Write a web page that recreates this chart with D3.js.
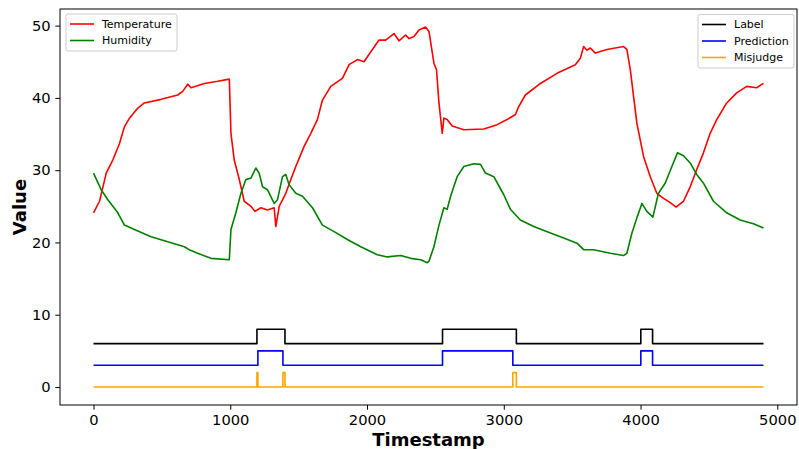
<!DOCTYPE html>
<html>
<head>
<meta charset="utf-8">
<script src="https://cdn.jsdelivr.net/npm/d3@7"></script>
<style>
  body { margin: 0; background: #fff; }
  text { font-family: "DejaVu Sans", sans-serif; }
</style>
</head>
<body>
<div id="root"></div>
<script>
// readings
const tempT = [0, 44, 93, 141, 190, 226, 263, 324, 372, 494, 616, 652, 689, 713, 810, 908, 993,
  1005, 1029, 1066, 1102, 1151, 1180, 1224, 1272, 1321, 1333, 1358, 1406, 1443, 1479, 1540, 1589,
  1637, 1674, 1735, 1820, 1869, 1930, 1978, 2039, 2088, 2136, 2197, 2234, 2282, 2307, 2343, 2380,
  2428, 2453, 2489, 2508, 2526, 2550, 2562, 2586, 2623, 2708, 2854, 2951, 3024, 3085, 3109, 3158,
  3268, 3389, 3523, 3560, 3584, 3608, 3633, 3669, 3754, 3876, 3900, 3925, 3949, 3973, 4022, 4071,
  4119, 4168, 4217, 4260, 4314, 4363, 4411, 4460, 4509, 4557, 4630, 4703, 4776, 4849, 4899];
const tempV = [24.1, 25.7, 29.6, 31.4, 33.7, 36.0, 37.2, 38.6, 39.3, 39.8, 40.4, 40.9, 41.9, 41.4, 42.0, 42.3, 42.6,
  35.1, 31.4, 28.7, 25.7, 25.0, 24.3, 24.8, 24.5, 24.8, 22.2, 25.0, 26.8, 28.7, 30.5, 33.3, 35.1,
  37.0, 39.7, 41.6, 42.7, 44.6, 45.3, 45.0, 46.7, 48.0, 48.0, 48.9, 47.9, 48.7, 48.2, 48.5, 49.4,
  49.8, 49.2, 44.8, 43.9, 39.3, 35.1, 37.2, 37.0, 36.1, 35.6, 35.7, 36.3, 37.0, 37.7, 38.8, 40.4,
  42.0, 43.4, 44.6, 45.5, 47.1, 46.6, 46.9, 46.2, 46.7, 47.1, 46.7, 43.9, 40.2, 36.5, 31.9, 29.1,
  26.8, 26.1, 25.5, 24.9, 25.7, 27.7, 30.1, 32.4, 35.1, 37.0, 39.3, 40.7, 41.6, 41.4, 42.0];

const humT = [0, 56, 105, 178, 226, 299, 421, 543, 664, 700, 761, 859, 993, 1005, 1041, 1078, 1114,
  1151, 1187, 1211, 1236, 1272, 1321, 1345, 1382, 1406, 1430, 1479, 1528, 1601, 1674, 1759, 1856,
  1954, 2075, 2148, 2246, 2319, 2392, 2440, 2453, 2489, 2526, 2562, 2586, 2611, 2659, 2708, 2781,
  2830, 2866, 2927, 3000, 3048, 3121, 3219, 3341, 3438, 3535, 3584, 3657, 3779, 3876, 3900, 3937,
  3973, 4010, 4046, 4090, 4131, 4180, 4229, 4270, 4314, 4363, 4411, 4460, 4533, 4630, 4728, 4825, 4899];
const humV = [29.6, 27.3, 25.9, 24.1, 22.4, 21.8, 20.8, 20.1, 19.4, 19.0, 18.5, 17.8, 17.6, 21.8, 24.1, 26.8, 28.7,
  28.9, 30.3, 29.6, 27.7, 27.3, 25.4, 25.9, 29.1, 29.4, 28.0, 26.8, 26.4, 24.8, 22.4, 21.5, 20.4,
  19.4, 18.3, 18.0, 18.2, 17.8, 17.6, 17.2, 17.4, 19.4, 22.4, 24.8, 24.6, 26.4, 29.1, 30.5, 30.9,
  30.8, 29.6, 29.1, 26.6, 24.6, 23.1, 22.2, 21.3, 20.6, 19.9, 19.0, 19.0, 18.5, 18.2, 18.5, 21.3,
  23.4, 25.4, 24.3, 23.5, 26.8, 28.2, 30.5, 32.4, 32.0, 31.0, 29.4, 28.2, 25.7, 24.1, 23.1, 22.6, 22.0];

// step series: value holds from each timestamp until the next
const labelT = [0, 1195, 1400, 2552, 3092, 4002, 4088, 4899];
const labelV = [6, 8, 6, 8, 6, 8, 6, 6];
const predT = [0, 1202, 1385, 2552, 3066, 4002, 4088, 4899];
const predV = [3, 5, 3, 5, 3, 5, 3, 3];
const misT = [0, 1195, 1202, 1385, 1400, 3066, 3092, 4899];
const misV = [0, 2, 0, 2, 0, 2, 0, 0];

const xTicks = [0, 1000, 2000, 3000, 4000, 5000];
const yTicks = [0, 10, 20, 30, 40, 50];

let width = 799, height = 449;
let margin = {top: 9, right: 2, bottom: 44, left: 60};

var svg = d3.select('#root')
  .append('svg')
  .attr('width', width)
  .attr('height', height);

var xScale = d3.scaleLinear()
  .domain([-245, 5144])
  .range([margin.left, width - margin.right]);

var yScale = d3.scaleLinear()
  .domain([-2.49, 52.3])
  .range([height - margin.bottom, margin.top]);

var zip = (ts, vs) => ts.map((t, i) => [t, vs[i]]);

var line = d3.line()
  .x(d => xScale(d[0]))
  .y(d => yScale(d[1]));
var stepLine = d3.line()
  .curve(d3.curveStepAfter)
  .x(d => xScale(d[0]))
  .y(d => yScale(d[1]));

var series = [
  {name: 'Temperature', color: 'red', data: zip(tempT, tempV), gen: line},
  {name: 'Humidity', color: 'green', data: zip(humT, humV), gen: line},
  {name: 'Label', color: 'black', data: zip(labelT, labelV), gen: stepLine},
  {name: 'Prediction', color: 'blue', data: zip(predT, predV), gen: stepLine},
  {name: 'Misjudge', color: 'orange', data: zip(misT, misV), gen: stepLine}
];

svg.append('g')
  .selectAll('path')
  .data(series)
  .enter()
  .append('path')
  .attr('d', d => d.gen(d.data))
  .attr('fill', 'none')
  .attr('stroke', d => d.color)
  .attr('stroke-width', 1.6)
  .attr('stroke-linejoin', 'round');

// axes
var xAxis = d3.axisBottom(xScale).tickValues(xTicks).tickFormat(d3.format('d'))
  .tickSize(4.7).tickPadding(4.7);
var yAxis = d3.axisLeft(yScale).tickValues(yTicks).tickFormat(d3.format('d'))
  .tickSize(4.7).tickPadding(4.7);

var gx = svg.append('g')
  .attr('transform', 'translate(' + [0, height - margin.bottom] + ')')
  .call(xAxis);
var gy = svg.append('g')
  .attr('transform', 'translate(' + [margin.left, 0] + ')')
  .call(yAxis);

[gx, gy].forEach(g => {
  g.select('.domain').remove();
  g.selectAll('line').attr('stroke', '#000').attr('stroke-width', 1);
  g.selectAll('text')
    .attr('fill', '#000')
    .style('font-family', '"DejaVu Sans", sans-serif')
    .style('font-size', '14.7px');
});

// frame
svg.append('rect')
  .attr('x', margin.left)
  .attr('y', margin.top)
  .attr('width', width - margin.right - margin.left)
  .attr('height', height - margin.bottom - margin.top)
  .attr('fill', 'none')
  .attr('stroke', '#000')
  .attr('stroke-width', 1);

// axis titles
svg.append('text')
  .attr('x', (margin.left + width - margin.right) / 2)
  .attr('y', 446)
  .attr('text-anchor', 'middle')
  .style('font-size', '18px')
  .style('font-weight', 'bold')
  .text('Timestamp');

svg.append('text')
  .attr('transform', 'translate(26,' + (margin.top + height - margin.bottom) / 2 + ') rotate(-90)')
  .attr('text-anchor', 'middle')
  .style('font-size', '18px')
  .style('font-weight', 'bold')
  .text('Value');

// legends
function legend(items, x, y, w) {
  var rowH = 16.5;
  var g = svg.append('g').attr('transform', 'translate(' + [x, y] + ')');
  g.append('rect')
    .attr('width', w)
    .attr('height', items.length * rowH + 4)
    .attr('rx', 2)
    .attr('fill', '#fff')
    .attr('fill-opacity', 0.8)
    .attr('stroke', '#ccc')
    .attr('stroke-width', 1);
  var row = g.selectAll('g')
    .data(items)
    .enter()
    .append('g')
    .attr('transform', (d, i) => 'translate(0,' + (10 + i * rowH) + ')');
  row.append('line')
    .attr('x1', 4).attr('x2', 28)
    .attr('stroke', d => d.color)
    .attr('stroke-width', 1.6);
  row.append('text')
    .attr('x', 36)
    .attr('dy', '0.35em')
    .style('font-size', '11px')
    .attr('fill', '#000')
    .text(d => d.name);
}
legend(series.slice(0, 2), 66, 14, 111);
legend(series.slice(2), 698, 14.5, 96);
</script>
</body>
</html>
